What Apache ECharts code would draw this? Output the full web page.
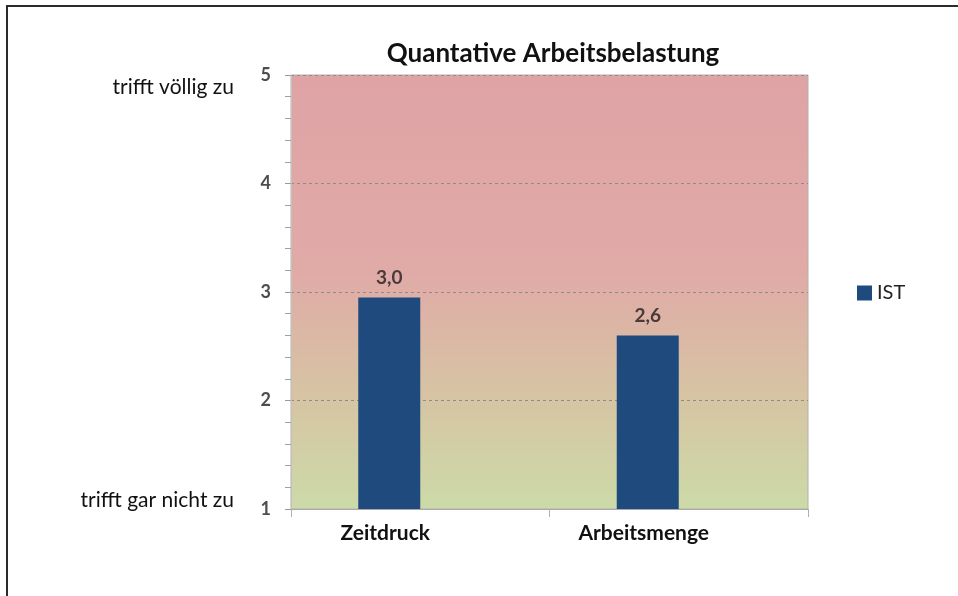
<!DOCTYPE html>
<html>
<head>
<meta charset="utf-8">
<title>Quantative Arbeitsbelastung</title>
<script src="https://cdn.jsdelivr.net/npm/echarts@6/dist/echarts.min.js"></script>
<style>
    html, body { margin: 0; padding: 0; background: #ffffff; }
    #chart { width: 958px; height: 596px; }
</style>
</head>
<body>
<div id="chart"></div>
<script>
// chart data
const categories = ['Zeitdruck', 'Arbeitsmenge'];
const istValues = [2.95, 2.6];
// the original Excel chart keeps an empty second series, which pushes the bars left
const emptyValues = [null, null];
const yTicks = [1, 2, 3, 4, 5];
const scaleLabels = ['trifft völlig zu', 'trifft gar nicht zu'];

const myChart = echarts.init(document.getElementById('chart'));

const font = 'Lato, "Open Sans", sans-serif';

const option = {
    animation: false,
    backgroundColor: '#ffffff',
    title: {
        text: 'Quantative Arbeitsbelastung',
        left: 548,
        textAlign: 'center',
        top: 36,
        textStyle: {
            color: '#111111',
            fontSize: 26,
            fontWeight: 'bold',
            fontFamily: font
        }
    },
    legend: {
        data: ['IST'],
        left: 852,
        top: 278,
        icon: 'rect',
        itemWidth: 15,
        itemHeight: 15,
        itemGap: 6,
        textStyle: {
            color: '#222222',
            fontSize: 20,
            fontFamily: font
        }
    },
    grid: {
        left: 291,
        right: 150,
        top: 75,
        bottom: 87,
        show: true,
        borderColor: '#b4b0ad',
        borderWidth: 1,
        backgroundColor: new echarts.graphic.LinearGradient(0, 0, 0, 1, [
            { offset: 0, color: '#dfa3a5' },
            { offset: 0.45, color: '#e0aaa7' },
            { offset: 0.75, color: '#d6c5a3' },
            { offset: 1, color: '#ccdaa8' }
        ])
    },
    xAxis: {
        type: 'category',
        data: categories,
        axisLine: {
            lineStyle: { color: '#a8a8a8', width: 1 }
        },
        axisTick: {
            show: true,
            length: 8,
            lineStyle: { color: '#b0b0b0' }
        },
        axisLabel: {
            color: '#111111',
            fontSize: 21,
            fontWeight: 'bold',
            fontFamily: font,
            margin: 14,
            padding: [0, 70, 0, 0]
        },
        splitLine: { show: false }
    },
    yAxis: {
        type: 'value',
        min: yTicks[0],
        max: yTicks[yTicks.length - 1],
        interval: 1,
        axisLine: {
            show: true,
            lineStyle: { color: '#c4c0bc' }
        },
        axisTick: {
            show: true,
            length: 6,
            lineStyle: { color: '#9a9a9a' }
        },
        minorTick: {
            show: true,
            splitNumber: 5,
            length: 6,
            lineStyle: { color: '#a0a0a0' }
        },
        axisLabel: {
            color: '#4d4d4d',
            fontSize: 18,
            fontWeight: 'bold',
            fontFamily: font,
            margin: 20
        },
        splitLine: {
            show: true,
            lineStyle: {
                color: '#8f8a88',
                type: [3, 3],
                width: 1
            }
        }
    },
    series: [
        {
            name: 'IST',
            type: 'bar',
            data: istValues,
            barWidth: 62,
            barGap: '0%',
            itemStyle: { color: '#1f4a7e' },
            label: {
                show: true,
                position: 'top',
                distance: 10,
                color: '#4a3a3a',
                fontSize: 19,
                fontWeight: 'bold',
                fontFamily: font,
                formatter: (p) => p.value.toFixed(1).replace('.', ',')
            }
        },
        {
            name: 'leer',
            type: 'bar',
            data: emptyValues,
            barWidth: 62,
            itemStyle: { color: 'transparent' }
        }
    ],
    graphic: [
        {
            type: 'rect',
            shape: { x: 7, y: 6, width: 970, height: 620 },
            style: { fill: 'none', stroke: '#2b2b2b', lineWidth: 2 },
            silent: true
        },
        {
            type: 'text',
            x: 234,
            y: 87,
            style: {
                text: scaleLabels[0],
                align: 'right',
                verticalAlign: 'middle',
                fill: '#111111',
                fontSize: 21,
                fontFamily: font
            }
        },
        {
            type: 'text',
            x: 234,
            y: 500,
            style: {
                text: scaleLabels[1],
                align: 'right',
                verticalAlign: 'middle',
                fill: '#111111',
                fontSize: 21,
                fontFamily: font
            }
        }
    ]
};

myChart.setOption(option);
</script>
</body>
</html>
